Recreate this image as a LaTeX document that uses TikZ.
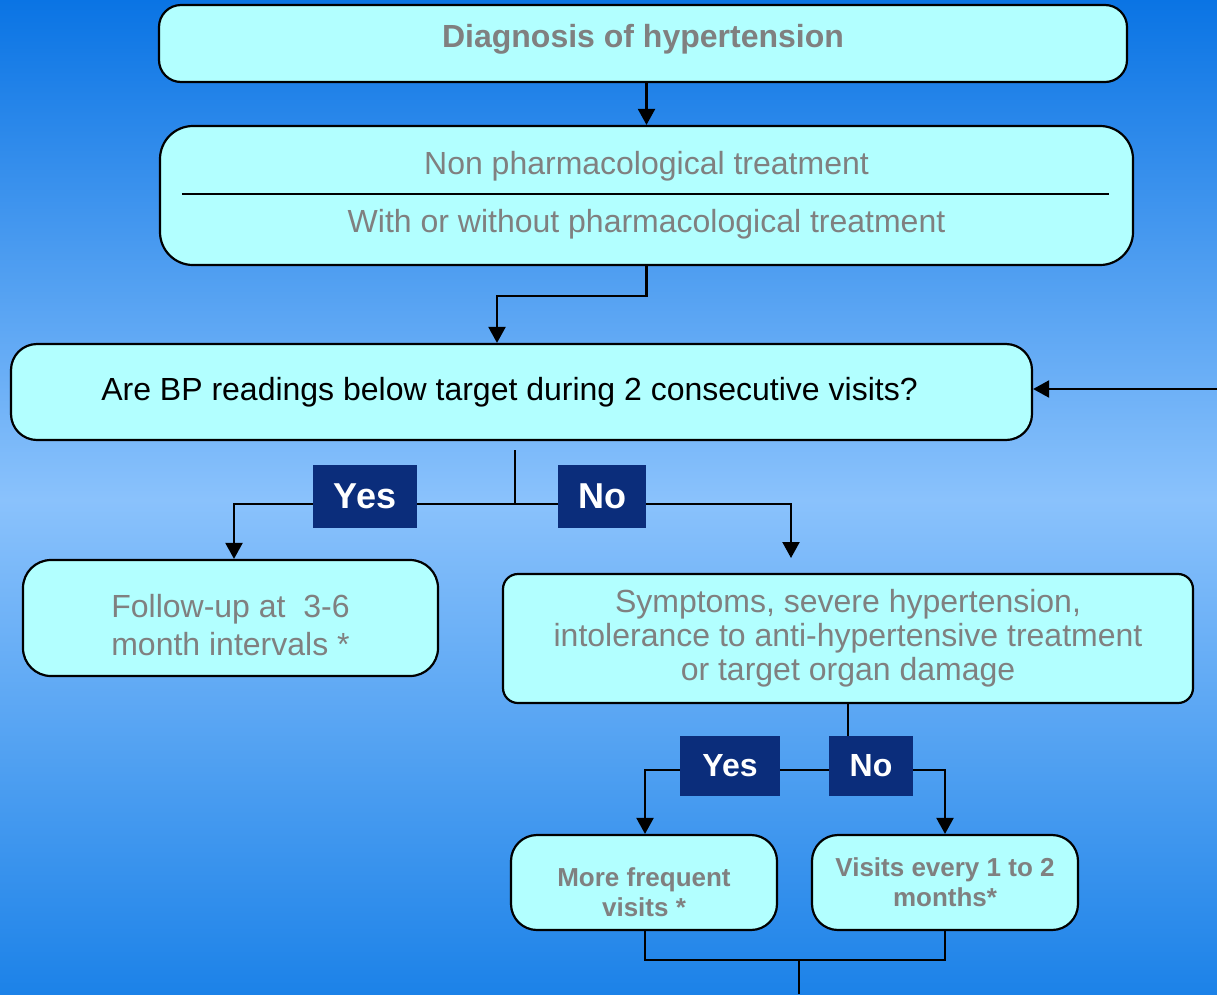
\documentclass[tikz,border=0pt]{standalone}
\usepackage{fontspec}
\setmainfont{Liberation Sans}
\usetikzlibrary{arrows.meta}
\definecolor{bgtop}{RGB}{10,116,228}
\definecolor{bgmid}{RGB}{138,194,252}
\definecolor{bgbot}{RGB}{28,130,232}
\definecolor{boxfill}{RGB}{178,255,255}
\definecolor{navy}{RGB}{11,45,123}
\definecolor{txtgray}{RGB}{128,128,128}
\tikzset{
  flowbox/.style={draw=black, line width=2.2pt, fill=boxfill, align=center, inner sep=0pt},
  graytext/.style={text=txtgray, font=\fontsize{32}{38}\selectfont},
  smallbold/.style={text=txtgray, font=\fontsize{26}{30}\selectfont\bfseries},
  answer/.style={fill=navy, text=white, inner sep=0pt, font=\fontsize{36}{40}\selectfont\bfseries},
  answersmall/.style={fill=navy, text=white, inner sep=0pt, font=\fontsize{32}{36}\selectfont\bfseries},
  conn/.style={draw=black, line width=2.2pt},
  arr/.style={conn, -{Triangle[length=16pt,width=17pt]}}
}
\begin{document}
\begin{tikzpicture}[x=1pt,y=-1pt]
\useasboundingbox (0,0) rectangle (1217,994);
\shade[top color=bgtop, bottom color=bgmid] (0,0) rectangle (1217,500);
\shade[top color=bgmid, bottom color=bgbot] (0,499.5) rectangle (1217,994);

% boxes
\node[flowbox, minimum width=968pt, minimum height=77pt, rounded corners=22pt,
      text=txtgray, font=\fontsize{32}{38}\selectfont\bfseries]
      (b1) at (643,43.5) {\rule[-15pt]{0pt}{15pt}Diagnosis of hypertension};
\node[flowbox, graytext, minimum width=973pt, minimum height=139pt, rounded corners=33pt]
      (b2) at (646.5,195.5) {Non pharmacological treatment\\[20pt]With or without pharmacological treatment};
\draw[conn, line width=2pt] ([xshift=23pt,yshift=1.5pt]b2.west) -- ([xshift=-25pt,yshift=1.5pt]b2.east);
\node[flowbox, minimum width=1021pt, minimum height=96pt, rounded corners=26pt,
      font=\fontsize{32}{38}\selectfont]
      (b3) at (521.5,392) {Are BP readings below target during 2 consecutive visits?\kern24pt};
\node[flowbox, graytext, minimum width=415pt, minimum height=116pt, rounded corners=28pt]
      (b4) at (230.5,618) {\rule{0pt}{37pt}Follow-up at~ 3-6\\month intervals *};
\node[flowbox, minimum width=690pt, minimum height=129pt, rounded corners=15pt,
      text=txtgray, font=\fontsize{32}{34}\selectfont]
      (b5) at (848,638.5) {Symptoms, severe hypertension,\\intolerance to anti-hypertensive treatment\\or target organ damage};
\node[flowbox, smallbold, minimum width=266pt, minimum height=95pt, rounded corners=26pt]
      (b6) at (644,882.5) {\rule{0pt}{39pt}More frequent\\visits *};
\node[flowbox, smallbold, minimum width=266pt, minimum height=95pt, rounded corners=26pt]
      (b7) at (945,882.5) {Visits every 1 to 2\\months*};

% free ends
\coordinate (rin) at (1217,389);
\coordinate (s1) at (515,450);
\coordinate (e5) at (791,558);
\coordinate (jn) at (799,959);
\coordinate (bot) at (799,994);

% connectors
\draw[arr] (b2.north |- b1.south) -- (b2.north);
\draw[arr] (b2.south) -- ++(0,30) -| ([xshift=-24.5pt]b3.north);
\draw[arr] (rin) -- (rin -| b3.east);
\draw[arr] (s1) -- ++(0,54) -| ([xshift=3.5pt]b4.north);
\draw[arr] (s1) -- ++(0,54) -| (e5);
\draw[arr] (b5.south) -- ++(0,66) -| ([xshift=1pt]b6.north);
\draw[arr] (b5.south) -- ++(0,66) -| (b7.north);
\draw[conn] ([xshift=1pt]b6.south) -- ++(0,29) -| (b7.south);
\draw[conn] (jn) -- (bot);

% answer labels
\node[answer, minimum width=104pt, minimum height=63pt] (y1) at (365,496.5) {Yes};
\node[answer, minimum width=88pt, minimum height=63pt] (n1) at (602,496.5) {No};
\node[answersmall, minimum width=100pt, minimum height=60pt] (y2) at (730,766) {Yes};
\node[answersmall, minimum width=84pt, minimum height=60pt] (n2) at (871,766) {No};
\end{tikzpicture}
\end{document}
